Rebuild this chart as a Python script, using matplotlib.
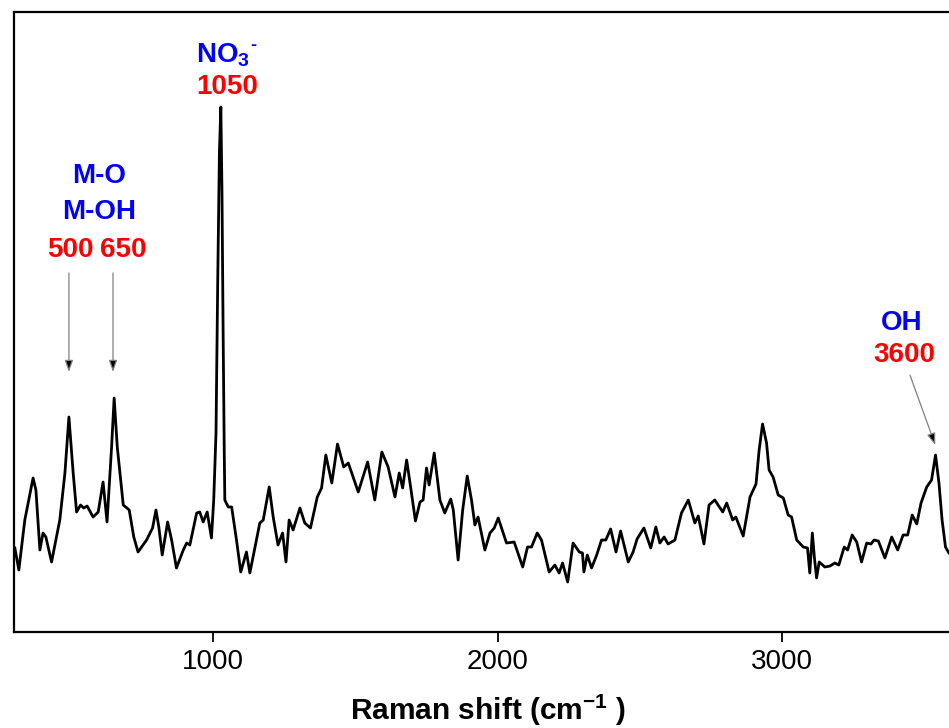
import matplotlib
matplotlib.use('Agg')
import matplotlib.pyplot as plt

plt.rcParams['font.family'] = ['Liberation Sans', 'DejaVu Sans']
plt.rcParams['mathtext.fontset'] = 'custom'
plt.rcParams['mathtext.rm'] = 'Liberation Sans:bold'
plt.rcParams['mathtext.it'] = 'Liberation Sans:bold'
plt.rcParams['mathtext.bf'] = 'Liberation Sans:bold'

# Raman spectrum (wavenumber, arbitrary intensity)
shift = [303, 317, 338, 367, 377, 391, 402, 412, 432, 461, 479, 493, 508, 520, 534, 545,
         557, 578, 596, 613, 627, 643, 652, 663, 684, 705, 721, 736, 766, 787, 799, 809,
         821, 840, 854, 871, 895, 907, 918, 942, 953, 965, 979, 994, 1002, 1010, 1016, 1022,
         1027, 1031, 1035, 1039, 1041, 1053, 1065, 1082, 1097, 1117, 1129, 1150, 1164, 1176,
         1197, 1211, 1228, 1244, 1256, 1267, 1281, 1305, 1322, 1342, 1366, 1381, 1396, 1417,
         1437, 1459, 1475, 1510, 1543, 1568, 1593, 1615, 1639, 1654, 1666, 1680, 1694, 1711,
         1727, 1738, 1750, 1759, 1777, 1797, 1814, 1835, 1844, 1861, 1877, 1893, 1908, 1920,
         1931, 1955, 1973, 1988, 2002, 2031, 2058, 2088, 2105, 2119, 2139, 2154, 2181, 2201,
         2216, 2228, 2246, 2265, 2287, 2298, 2303, 2315, 2330, 2348, 2365, 2380, 2397, 2416,
         2432, 2459, 2476, 2490, 2514, 2538, 2556, 2570, 2585, 2599, 2623, 2646, 2670, 2693,
         2705, 2725, 2743, 2763, 2791, 2805, 2826, 2837, 2863, 2887, 2908, 2919, 2931, 2945,
         2954, 2968, 2986, 3004, 3021, 3033, 3051, 3074, 3089, 3097, 3106, 3113, 3121, 3130,
         3150, 3168, 3185, 3199, 3218, 3230, 3246, 3262, 3279, 3297, 3312, 3323, 3338, 3361,
         3385, 3406, 3425, 3441, 3457, 3473, 3488, 3508, 3525, 3539, 3551, 3562, 3574, 3586,
         3610, 3635]
intensity = [84, 62, 112, 154, 142, 82, 99, 95, 70, 112, 159, 215, 159, 120, 127, 124,
             126, 115, 120, 150, 110, 185, 234, 185, 127, 122, 95, 80, 92, 104, 122, 105,
             77, 110, 92, 64, 82, 89, 87, 119, 120, 110, 120, 94, 132, 199, 350, 480,
             525, 440, 300, 180, 132, 125, 125, 92, 60, 80, 59, 89, 109, 112,
             145, 115, 87, 99, 70, 112, 102, 124, 109, 104, 135, 144, 177, 149,
             188, 165, 169, 140, 170, 132, 180, 165, 135, 159, 144, 172, 145, 111,
             130, 132, 164, 147, 179, 132, 119, 133, 122, 72, 122, 156, 132, 107,
             115, 82, 99, 104, 114, 89, 90, 65, 85, 85, 99, 92, 60, 67,
             59, 69, 50, 89, 80, 79, 60, 77, 64, 77, 92, 92, 103, 80,
             101, 70, 80, 93, 104, 84, 105, 89, 95, 88, 92, 119, 132, 109,
             116, 88, 127, 132, 120, 129, 112, 115, 96, 135, 148, 182, 208, 189,
             162, 155, 137, 134, 117, 115, 92, 85, 84, 59, 99, 75, 54, 70,
             65, 66, 69, 67, 85, 82, 97, 90, 70, 89, 88, 92, 91, 74,
             95, 82, 97, 97, 117, 108, 129, 145, 152, 177, 149, 112, 85, 79,
             72, 70]

tick_vals = [1000, 2000, 3000]

fig = plt.figure(figsize=(9.49, 7.28), dpi=100)
ax = fig.add_axes([14 / 949, 96 / 728, 948 / 949, 620 / 728])
ax.plot(shift, intensity, color='black', lw=2.0, solid_joinstyle='round')
ax.set_xlim(300, 3632)
ax.set_ylim(0, 620)

for s in ax.spines.values():
    s.set_linewidth(1.6)
ax.set_yticks([])
ax.set_xticks(tick_vals)
ax.tick_params(axis='x', direction='out', length=7.5, width=1.3, labelsize=20, pad=5)
ax.set_xlabel(r'Raman shift (cm$^{-1}$ )', fontsize=21.5, fontweight='bold', labelpad=12.5)

blue = '#0000ff'
red = '#ff0000'
tkw = dict(ha='center', va='center', fontsize=20, fontweight='bold')
ax.text(599, 456, 'M-O', color=blue, **tkw)
ax.text(599, 420, 'M-OH', color=blue, **tkw)
ax.text(497, 382, '500', color=red, **tkw)
ax.text(683, 382, '650', color=red, **tkw)
ax.text(1033, 577, r'NO$_3$', color=blue, **tkw)
ax.text(1142, 586, '-', color=blue, ha='center', va='center', fontsize=13, fontweight='bold')
ax.text(1049, 545, '1050', color=red, **tkw)
ax.text(3421, 309, 'OH', color=blue, **tkw)
ax.text(3429, 277, '3600', color=red, **tkw)

akw = dict(arrowstyle='-|>,head_length=0.7,head_width=0.25', edgecolor='gray',
           facecolor='black', lw=0.9, shrinkA=0, shrinkB=0)
ax.annotate('', xy=(493, 260), xytext=(493, 359), arrowprops=akw)
ax.annotate('', xy=(648, 260), xytext=(648, 359), arrowprops=akw)
ax.annotate('', xy=(3538, 187), xytext=(3449, 257), arrowprops=akw)

fig.savefig('out.png', dpi=100)
